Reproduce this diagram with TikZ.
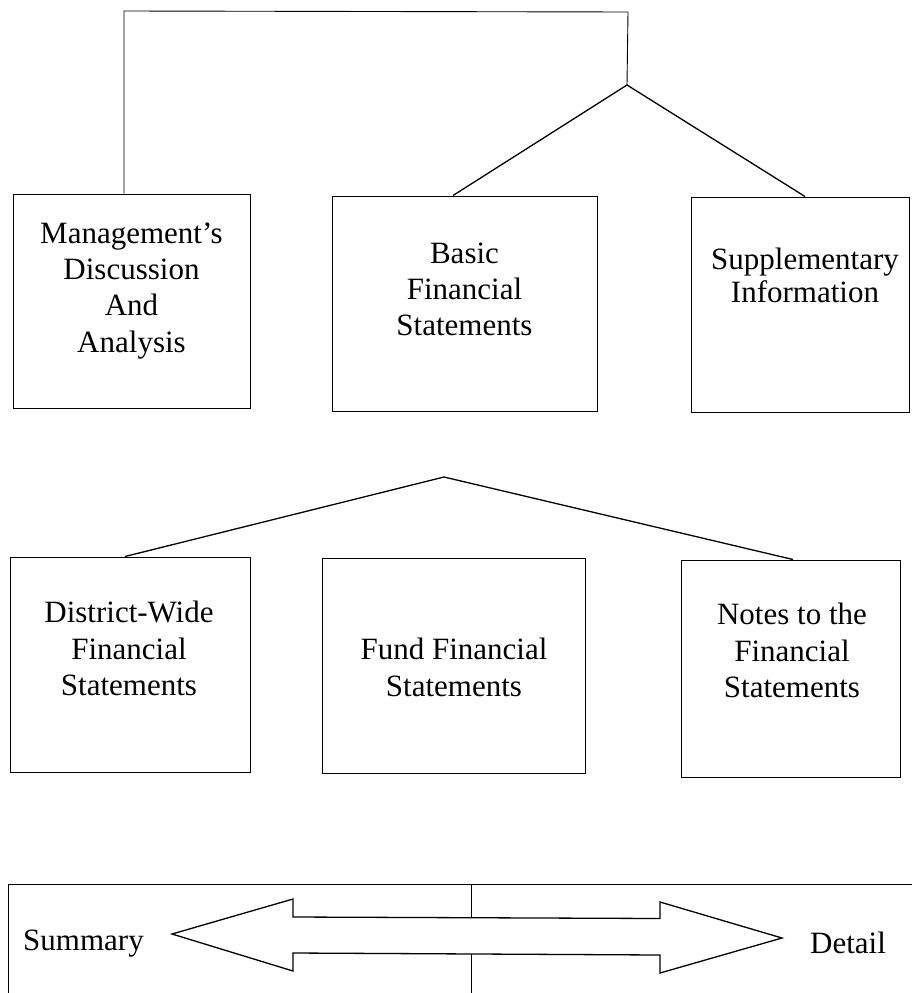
\documentclass[tikz,border=0pt]{standalone}
\usepackage{fontspec}
\setmainfont{Liberation Serif}
\begin{document}
\begin{tikzpicture}[x=1pt,y=-1pt,
  box/.style={draw,line width=1pt,inner sep=0pt},
  txt/.style={inner sep=0pt,align=center,anchor=north},
  toprow/.style={font=\fontsize{31}{36}\selectfont},
  botrow/.style={font=\fontsize{31}{36.5}\selectfont},
  conn/.style={line width=1.3pt},
  thin/.style={line width=0.9pt}]
\useasboundingbox (0,0) rectangle (911,993);
% top row boxes
\node[box,minimum width=237pt,minimum height=214pt] (mda) at (131.5,301) {};
\node[box,minimum width=265pt,minimum height=215pt] (bfs) at (464.5,303.5) {};
\node[box,minimum width=218pt,minimum height=215pt] (sup) at (800,304.5) {};
\node[txt,toprow,font=\fontsize{31}{36.3}\selectfont] (mdat) at (131.5,222.5) {Management’s\\Discussion\\And\\Analysis};
\node[txt,toprow] (bfst) at (464.5,243) {Basic\\Financial\\Statements};
\node[txt,toprow,font=\fontsize{31}{33}\selectfont] (supt) at (805,248) {Supplementary\\Information};
% second row boxes
\node[box,minimum width=239.5pt,minimum height=215pt] (dw) at (130.25,664.5) {};
\node[box,minimum width=263pt,minimum height=215pt] (ffs) at (454,665.5) {};
\node[box,minimum width=219pt,minimum height=217pt] (nts) at (791,668.5) {};
\node[txt,botrow] (dwt) at (129,601) {District-Wide\\Financial\\Statements};
\node[txt,botrow] (ffst) at (454,638) {Fund Financial\\Statements};
\node[txt,botrow] (ntst) at (792,603) {Notes to the\\Financial\\Statements};
% top connectors
\coordinate (tl) at (124,11);
\coordinate (tr) at (628,12);
\coordinate (apex1) at (627,85);
\draw[thin] (mda.north -| tl) -- (tl) -- (tr) -- (apex1);
\draw[conn] (bfs.north -| 453,0) -- (apex1) -- (sup.north -| 805,0);
% second connectors
\coordinate (apex2) at (444,477);
\draw[conn] (dw.north -| 125,0) -- (apex2) -- (nts.north -| 793,0);
% bottom scale box
\draw[thin] (930,884) -- (8,884) -- (8,993.6) -- (930,993.6);
\coordinate (mt) at (471,884);
\coordinate (mb) at (471,993);
\coordinate (at) at (471,917.5);
\coordinate (ab) at (471,954);
\draw[thin] (mt) -- (at);
\draw[thin] (ab) -- (mb);
\draw[conn,line join=miter] (172,934) -- (293,899) -- (293,917) -- (660,918.5) -- (660,902)
  -- (782,938) -- (660,973) -- (660,955) -- (293,953) -- (293,971) -- cycle;
\node[inner sep=0pt,anchor=base west,font=\fontsize{31}{34}\selectfont] (sum) at (23,950) {Summary};
\node[inner sep=0pt,anchor=base west,font=\fontsize{31}{34}\selectfont] (det) at (810,953) {Detail};
\end{tikzpicture}
\end{document}
